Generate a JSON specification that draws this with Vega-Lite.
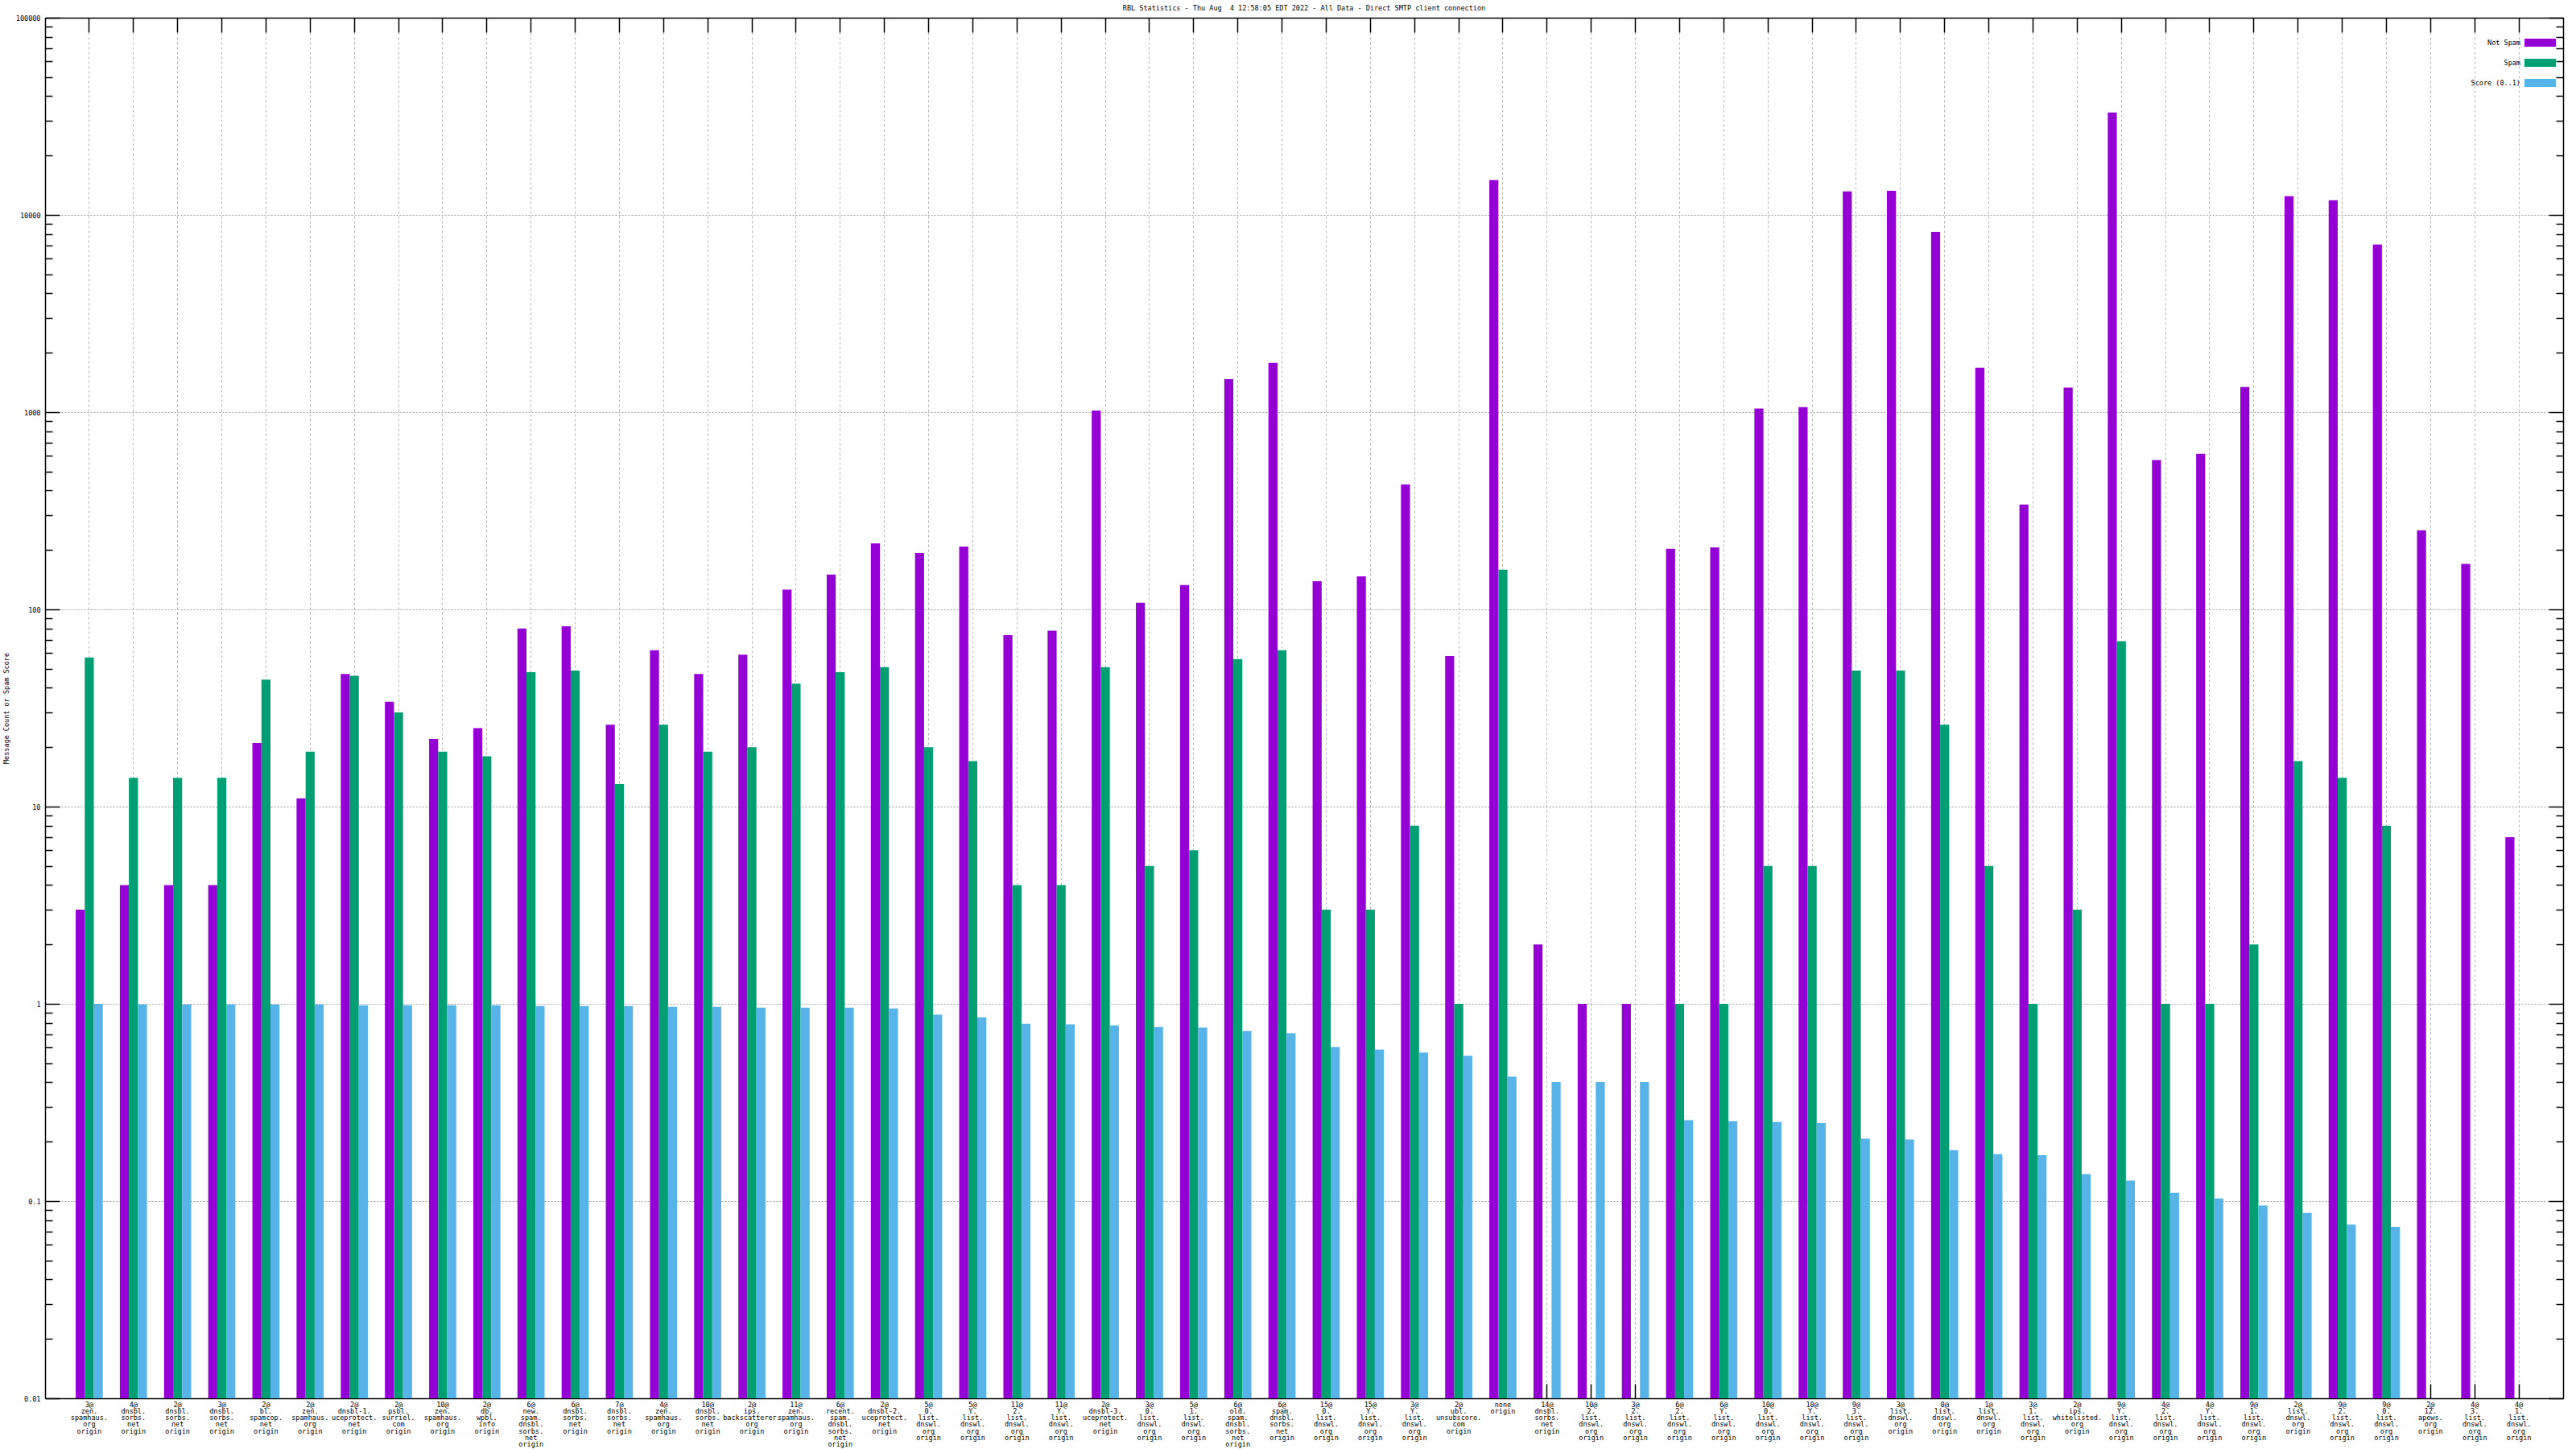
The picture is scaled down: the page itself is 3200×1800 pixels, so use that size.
{
  "$schema": "https://vega.github.io/schema/vega-lite/v6.json",
  "width": 3128,
  "height": 1715,
  "autosize": {"type": "none"},
  "padding": {"left": 56, "top": 22, "right": 16, "bottom": 63},
  "background": "white",
  "title": {
    "text": "RBL Statistics - Thu Aug \u00a04 12:58:05 EDT 2022 - All Data - Direct SMTP client connection",
    "font": "DejaVu Sans Mono", "fontSize": 8.5, "fontWeight": "normal",
    "anchor": "middle", "frame": "group", "offset": 4, "color": "black"
  },
  "config": {
    "view": {"stroke": null},
    "font": "DejaVu Sans Mono",
    "axis": {
      "labelFont": "DejaVu Sans Mono", "labelFontSize": 8.5, "labelColor": "black",
      "domainColor": "black", "domainWidth": 1.5, "tickColor": "black", "tickWidth": 1.5,
      "titleColor": "black", "titleFont": "DejaVu Sans Mono"
    }
  },
  "data": {"values": [
    {"src": "3@|zen.|spamhaus.|org|origin", "ns": 3, "sp": 57, "sc": 1.0},
    {"src": "4@|dnsbl.|sorbs.|net|origin", "ns": 4, "sp": 14, "sc": 0.994},
    {"src": "2@|dnsbl.|sorbs.|net|origin", "ns": 4, "sp": 14, "sc": 0.994},
    {"src": "3@|dnsbl.|sorbs.|net|origin", "ns": 4, "sp": 14, "sc": 0.994},
    {"src": "2@|bl.|spamcop.|net|origin", "ns": 21, "sp": 44, "sc": 0.994},
    {"src": "2@|zen.|spamhaus.|org|origin", "ns": 11, "sp": 19, "sc": 0.994},
    {"src": "2@|dnsbl-1.|uceprotect.|net|origin", "ns": 47, "sp": 46, "sc": 0.984},
    {"src": "2@|psbl.|surriel.|com|origin", "ns": 34, "sp": 30, "sc": 0.984},
    {"src": "10@|zen.|spamhaus.|org|origin", "ns": 22, "sp": 19, "sc": 0.984},
    {"src": "2@|db.|wpbl.|info|origin", "ns": 25, "sp": 18, "sc": 0.984},
    {"src": "6@|new.|spam.|dnsbl.|sorbs.|net|origin", "ns": 80, "sp": 48, "sc": 0.975},
    {"src": "6@|dnsbl.|sorbs.|net|origin", "ns": 82, "sp": 49, "sc": 0.975},
    {"src": "7@|dnsbl.|sorbs.|net|origin", "ns": 26, "sp": 13, "sc": 0.975},
    {"src": "4@|zen.|spamhaus.|org|origin", "ns": 62, "sp": 26, "sc": 0.966},
    {"src": "10@|dnsbl.|sorbs.|net|origin", "ns": 47, "sp": 19, "sc": 0.966},
    {"src": "2@|ips.|backscatterer.|org|origin", "ns": 59, "sp": 20, "sc": 0.957},
    {"src": "11@|zen.|spamhaus.|org|origin", "ns": 126, "sp": 42, "sc": 0.957},
    {"src": "6@|recent.|spam.|dnsbl.|sorbs.|net|origin", "ns": 150, "sp": 48, "sc": 0.957},
    {"src": "2@|dnsbl-2.|uceprotect.|net|origin", "ns": 216, "sp": 51, "sc": 0.948},
    {"src": "5@|0.|list.|dnswl.|org|origin", "ns": 193, "sp": 20, "sc": 0.88},
    {"src": "5@|Y.|list.|dnswl.|org|origin", "ns": 208, "sp": 17, "sc": 0.855},
    {"src": "11@|2.|list.|dnswl.|org|origin", "ns": 74, "sp": 4, "sc": 0.793},
    {"src": "11@|Y.|list.|dnswl.|org|origin", "ns": 78, "sp": 4, "sc": 0.786},
    {"src": "2@|dnsbl-3.|uceprotect.|net|origin", "ns": 1020, "sp": 51, "sc": 0.778},
    {"src": "3@|0.|list.|dnswl.|org|origin", "ns": 108, "sp": 5, "sc": 0.764},
    {"src": "5@|1.|list.|dnswl.|org|origin", "ns": 133, "sp": 6, "sc": 0.757},
    {"src": "6@|old.|spam.|dnsbl.|sorbs.|net|origin", "ns": 1470, "sp": 56, "sc": 0.729},
    {"src": "6@|spam.|dnsbl.|sorbs.|net|origin", "ns": 1780, "sp": 62, "sc": 0.709},
    {"src": "15@|0.|list.|dnswl.|org|origin", "ns": 139, "sp": 3, "sc": 0.604},
    {"src": "15@|Y.|list.|dnswl.|org|origin", "ns": 147, "sp": 3, "sc": 0.587},
    {"src": "3@|Y.|list.|dnswl.|org|origin", "ns": 430, "sp": 8, "sc": 0.566},
    {"src": "2@|ubl.|unsubscore.|com|origin", "ns": 58, "sp": 1, "sc": 0.545},
    {"src": "none|origin", "ns": 15000, "sp": 159, "sc": 0.427},
    {"src": "14@|dnsbl.|sorbs.|net|origin", "ns": 2, "sc": 0.402},
    {"src": "10@|2.|list.|dnswl.|org|origin", "ns": 1, "sc": 0.402},
    {"src": "3@|2.|list.|dnswl.|org|origin", "ns": 1, "sc": 0.402},
    {"src": "6@|2.|list.|dnswl.|org|origin", "ns": 203, "sp": 1, "sc": 0.257},
    {"src": "6@|Y.|list.|dnswl.|org|origin", "ns": 206, "sp": 1, "sc": 0.254},
    {"src": "10@|0.|list.|dnswl.|org|origin", "ns": 1042, "sp": 5, "sc": 0.252},
    {"src": "10@|Y.|list.|dnswl.|org|origin", "ns": 1061, "sp": 5, "sc": 0.249},
    {"src": "9@|3.|list.|dnswl.|org|origin", "ns": 13160, "sp": 49, "sc": 0.207},
    {"src": "3@|list.|dnswl.|org|origin", "ns": 13270, "sp": 49, "sc": 0.205},
    {"src": "0@|list.|dnswl.|org|origin", "ns": 8210, "sp": 26, "sc": 0.181},
    {"src": "1@|list.|dnswl.|org|origin", "ns": 1682, "sp": 5, "sc": 0.173},
    {"src": "3@|1.|list.|dnswl.|org|origin", "ns": 340, "sp": 1, "sc": 0.171},
    {"src": "2@|ips.|whitelisted.|org|origin", "ns": 1331, "sp": 3, "sc": 0.137},
    {"src": "9@|Y.|list.|dnswl.|org|origin", "ns": 33050, "sp": 69, "sc": 0.127},
    {"src": "4@|2.|list.|dnswl.|org|origin", "ns": 571, "sp": 1, "sc": 0.110},
    {"src": "4@|Y.|list.|dnswl.|org|origin", "ns": 615, "sp": 1, "sc": 0.103},
    {"src": "9@|1.|list.|dnswl.|org|origin", "ns": 1341, "sp": 2, "sc": 0.095},
    {"src": "2@|list.|dnswl.|org|origin", "ns": 12450, "sp": 17, "sc": 0.087},
    {"src": "9@|2.|list.|dnswl.|org|origin", "ns": 11860, "sp": 14, "sc": 0.076},
    {"src": "9@|0.|list.|dnswl.|org|origin", "ns": 7080, "sp": 8, "sc": 0.074},
    {"src": "2@|12.|apews.|org|origin", "ns": 252},
    {"src": "4@|3.|list.|dnswl.|org|origin", "ns": 170},
    {"src": "4@|1.|list.|dnswl.|org|origin", "ns": 7}
  ]},
  "transform": [
    {"fold": ["ns", "sp", "sc"], "as": ["series", "value"]},
    {"filter": "isValid(datum.value) && datum.value > 0"}
  ],
  "layer": [
    {
      "mark": {"type": "bar"},
      "encoding": {
        "x": {
          "field": "src", "type": "nominal", "sort": null,
          "scale": {"paddingInner": 0.386, "paddingOuter": 0.693},
          "axis": {
            "orient": "bottom", "title": null,
            "labelExpr": "split(datum.label, '|')",
            "labelAngle": 0, "labelAlign": "center", "labelBaseline": "top",
            "labelPadding": 3, "labelLineHeight": 8.3, "labelOverlap": false, "labelLimit": 0,
            "ticks": false, "domain": true,
            "grid": true, "gridColor": "#b4b4b4", "gridDash": [3, 3], "gridWidth": 1,
            "bandPosition": 0.5
          }
        },
        "xOffset": {
          "field": "series", "type": "nominal",
          "scale": {"domain": ["ns", "sp", "sc"], "paddingInner": 0, "paddingOuter": 0}
        },
        "y": {
          "field": "value", "type": "quantitative", "stack": null,
          "scale": {"type": "log", "domain": [0.01, 100000], "nice": false},
          "axis": {
            "orient": "left",
            "values": [0.01, 0.1, 1, 10, 100, 1000, 10000, 100000],
            "labelExpr": "'' + datum.value",
            "labelPadding": 6, "labelOverlap": false, "labelFlush": false,
            "ticks": false, "domain": true,
            "grid": true, "gridColor": "#a0a0a0", "gridDash": [2, 2], "gridWidth": 1,
            "title": "Message Count or Spam Score",
            "titleFontSize": 8.5, "titleFontWeight": "normal",
            "titleX": -49, "titleY": 857.5, "titleAngle": -90,
            "titleAlign": "center", "titleBaseline": "middle"
          }
        },
        "color": {
          "field": "series", "type": "nominal",
          "scale": {"domain": ["ns", "sp", "sc"], "range": ["#9400d3", "#009e73", "#56b4e9"]},
          "legend": {
            "orient": "none", "legendX": 3080, "legendY": 11.5,
            "title": null, "padding": 0,
            "symbolType": "M-1,-0.2564H1V0.2564H-1Z", "symbolSize": 1521,
            "symbolStrokeWidth": 0, "symbolOpacity": 1,
            "labelAlign": "right", "labelOffset": -44, "rowPadding": -17,
            "labelFont": "DejaVu Sans Mono", "labelFontSize": 8.5, "labelColor": "black",
            "labelExpr": "datum.label == 'ns' ? 'Not Spam' : datum.label == 'sp' ? 'Spam' : 'Score (0..1)'"
          }
        }
      }
    },
    {
      "mark": {"type": "bar", "opacity": 0},
      "encoding": {
        "x": {"field": "src", "type": "nominal", "sort": null,
          "axis": {"orient": "top", "title": null, "labels": false, "grid": false, "domain": true,
                   "ticks": true, "tickSize": -18, "bandPosition": 0.5}},
        "y": {"field": "value", "type": "quantitative", "stack": null,
          "axis": {"orient": "right", "title": null, "labels": false, "grid": false, "domain": true,
                   "ticks": true, "tickSize": -18,
                   "values": [0.01, 0.1, 1, 10, 100, 1000, 10000, 100000]}}
      }
    },
    {
      "mark": {"type": "bar", "opacity": 0},
      "encoding": {
        "x": {"field": "src", "type": "nominal", "sort": null,
          "axis": {"orient": "bottom", "title": null, "labels": false, "grid": false, "domain": false,
                   "ticks": true, "tickSize": -18, "bandPosition": 0.5}},
        "y": {"field": "value", "type": "quantitative", "stack": null,
          "axis": {"orient": "left", "title": null, "labels": false, "grid": false, "domain": false,
                   "ticks": true, "tickSize": -18,
                   "values": [0.01, 0.1, 1, 10, 100, 1000, 10000, 100000]}}
      }
    },
    {
      "mark": {"type": "bar", "opacity": 0},
      "encoding": {
        "x": {"field": "src", "type": "nominal", "sort": null, "axis": null},
        "y": {"field": "value", "type": "quantitative", "stack": null,
          "axis": {"orient": "left", "title": null, "labels": false, "grid": false, "domain": false,
                   "ticks": true, "tickSize": -9,
                   "values": [0.02, 0.03, 0.04, 0.05, 0.06, 0.07, 0.08, 0.09,
                              0.2, 0.3, 0.4, 0.5, 0.6, 0.7, 0.8, 0.9,
                              2, 3, 4, 5, 6, 7, 8, 9,
                              20, 30, 40, 50, 60, 70, 80, 90,
                              200, 300, 400, 500, 600, 700, 800, 900,
                              2000, 3000, 4000, 5000, 6000, 7000, 8000, 9000,
                              20000, 30000, 40000, 50000, 60000, 70000, 80000, 90000]}}
      }
    },
    {
      "mark": {"type": "bar", "opacity": 0},
      "encoding": {
        "x": {"field": "src", "type": "nominal", "sort": null, "axis": null},
        "y": {"field": "value", "type": "quantitative", "stack": null,
          "axis": {"orient": "right", "title": null, "labels": false, "grid": false, "domain": false,
                   "ticks": true, "tickSize": -9,
                   "values": [0.02, 0.03, 0.04, 0.05, 0.06, 0.07, 0.08, 0.09,
                              0.2, 0.3, 0.4, 0.5, 0.6, 0.7, 0.8, 0.9,
                              2, 3, 4, 5, 6, 7, 8, 9,
                              20, 30, 40, 50, 60, 70, 80, 90,
                              200, 300, 400, 500, 600, 700, 800, 900,
                              2000, 3000, 4000, 5000, 6000, 7000, 8000, 9000,
                              20000, 30000, 40000, 50000, 60000, 70000, 80000, 90000]}}
      }
    }
  ],
  "resolve": {"axis": {"x": "independent", "y": "independent"}}
}
